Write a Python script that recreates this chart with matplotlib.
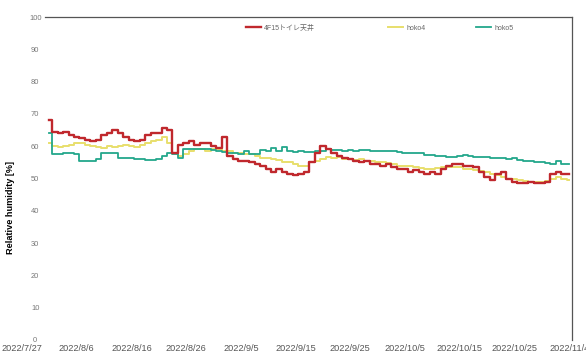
import numpy as np
import pandas as pd
import matplotlib
matplotlib.use('Agg')
import matplotlib.pyplot as plt
import matplotlib.dates as mdates

plt.rcParams['font.family'] = ['Liberation Sans', 'Noto Sans CJK JP']

# daily relative humidity readings, 2022/8/1 .. 2022/11/4
start = '2022-08-01'
labels = ['4F15トイレ天井', 'hoko4', 'hoko5']
colors = ['#c0282d', '#e8df6c', '#23a78b']

red = [68, 64.5, 64, 64.5, 63.5, 63, 62.5, 62, 61.5, 62,
       63.5, 64, 65, 64, 63, 62, 61.5, 62, 63.5, 64,
       64, 65.5, 65, 58, 60.5, 61, 61.5, 60.5, 61, 61,
       60, 59.5, 63, 57, 56, 55.5, 55.5, 55, 54.5, 54,
       53, 52, 53, 52, 51.5, 51, 51.5, 52, 55, 58,
       60, 59, 58, 57, 56.5, 56, 55.5, 55, 55.5, 54.5,
       54.5, 54, 54.5, 53.5, 53, 53, 52, 52.5, 52, 51.5,
       52, 51.5, 53, 54, 54.5, 54.5, 54, 54, 53.5, 52,
       50.5, 49.5, 51.5, 52, 50, 49, 48.6, 48.5, 48.8, 48.5,
       48.6, 49, 51.5, 52, 51.5, 51.5]

hoko4 = [61, 60, 59.8, 60, 60.5, 61, 61, 60.5, 60, 59.8,
         59.5, 60, 59.8, 60, 60.5, 60, 59.8, 60.5, 61, 61.5,
         62, 62.8, 61, 58, 57, 57.5, 58.5, 59, 59, 58.5,
         59, 59, 58.5, 58.5, 58, 57.8, 57.5, 57.5, 57, 56.5,
         56.5, 56, 55.7, 55, 55, 54.5, 54, 54, 55, 55.5,
         56, 56.7, 56.5, 56.7, 56, 56, 55.7, 56, 55.5, 55.5,
         55, 55, 54.8, 54.5, 54, 54, 53.8, 53.5, 53.2, 53,
         53, 53.2, 53.5, 53.5, 53.5, 53.5, 53, 52.8, 52.5, 52.3,
         52, 51.5, 51, 50.5, 50, 49.8, 49.5, 49.3, 49, 49,
         49, 49.2, 50, 50.5, 50, 49.5]

hoko5 = [64, 57.5, 57.5, 57.8, 58, 57.5, 55.5, 55.3, 55.5, 56,
         57.8, 58, 57.8, 56.5, 56.3, 56.3, 56, 56, 55.8, 55.8,
         56, 57, 58, 57.5, 56.5, 59, 59, 59.2, 59, 59,
         58.8, 58.5, 58.2, 58, 57.8, 57.5, 58.5, 57.5, 57.5, 58.8,
         58.5, 59.5, 58.5, 59.8, 58.5, 58.3, 58.5, 58.2, 58.3, 58.5,
         58.5, 59, 58.8, 58.8, 58.6, 58.8, 58.5, 58.8, 58.8, 58.6,
         58.5, 58.5, 58.5, 58.5, 58.3, 58, 58, 57.9, 57.8, 57.3,
         57.2, 57, 57, 56.8, 56.8, 57, 57.2, 57, 56.8, 56.7,
         56.7, 56.5, 56.5, 56.3, 56, 56.2, 55.7, 55.5, 55.5, 55,
         55, 54.7, 54.5, 55.5, 54.5, 54.5]

tick_dates = pd.date_range('2022-07-27', '2022-11-04', freq='10D')
dates = pd.date_range(start, periods=len(red), freq='D')

fig = plt.figure(figsize=(5.86, 3.53), dpi=100)
ax = fig.add_axes([22 / 586, 13 / 353, 550 / 586, 323 / 353])

series = [red, hoko4, hoko5]
zorders = [4, 2, 3]
widths = [1.7, 1.4, 1.3]
lines = []
for vals, lab, col, z, w in zip(series, labels, colors, zorders, widths):
    ln, = ax.plot(dates, vals, color=col, lw=w, label=lab, zorder=z,
                  drawstyle='steps-mid')
    lines.append(ln)

x0 = pd.Timestamp('2022-07-27')
x1 = pd.Timestamp('2022-11-04 12:00')
ax.set_xlim(x0, x1)
ax.set_ylim(0, 100)
ax.set_yticks(np.arange(0, 101, 10))
ax.set_xticks(tick_dates)
ax.set_xticklabels([f'{d.year}/{d.month}/{d.day}' for d in tick_dates])

ax.tick_params(axis='x', length=0, pad=3, labelsize=6.6, labelcolor='#555555')
ax.tick_params(axis='y', length=0, pad=-9.5, labelsize=5.4, labelcolor='#777777')
for t in ax.get_yticklabels():
    t.set_horizontalalignment('center')

for s in ['left', 'bottom']:
    ax.spines[s].set_visible(False)
ax.spines['top'].set_bounds(mdates.date2num(pd.Timestamp('2022-07-31 05:00')), mdates.date2num(x1))
for s in ['top', 'right']:
    ax.spines[s].set_color('#555555')
    ax.spines[s].set_linewidth(0.9)

ax.set_ylabel('Relative humidity [%]', fontsize=6.6, fontweight='bold')
ax.yaxis.set_label_coords(-0.013, 0.41)

# one legend entry per series, spaced along the top
legend_x = [246, 388, 476]
for ln, lx in zip(lines, legend_x):
    fig.legend(handles=[ln], loc='center left', bbox_to_anchor=(lx / 586, 0.92),
               frameon=False, fontsize=5, handlelength=2.2, handletextpad=0.4,
               borderpad=0, borderaxespad=0, labelcolor='#666666')

fig.savefig('out.png', dpi=100)
